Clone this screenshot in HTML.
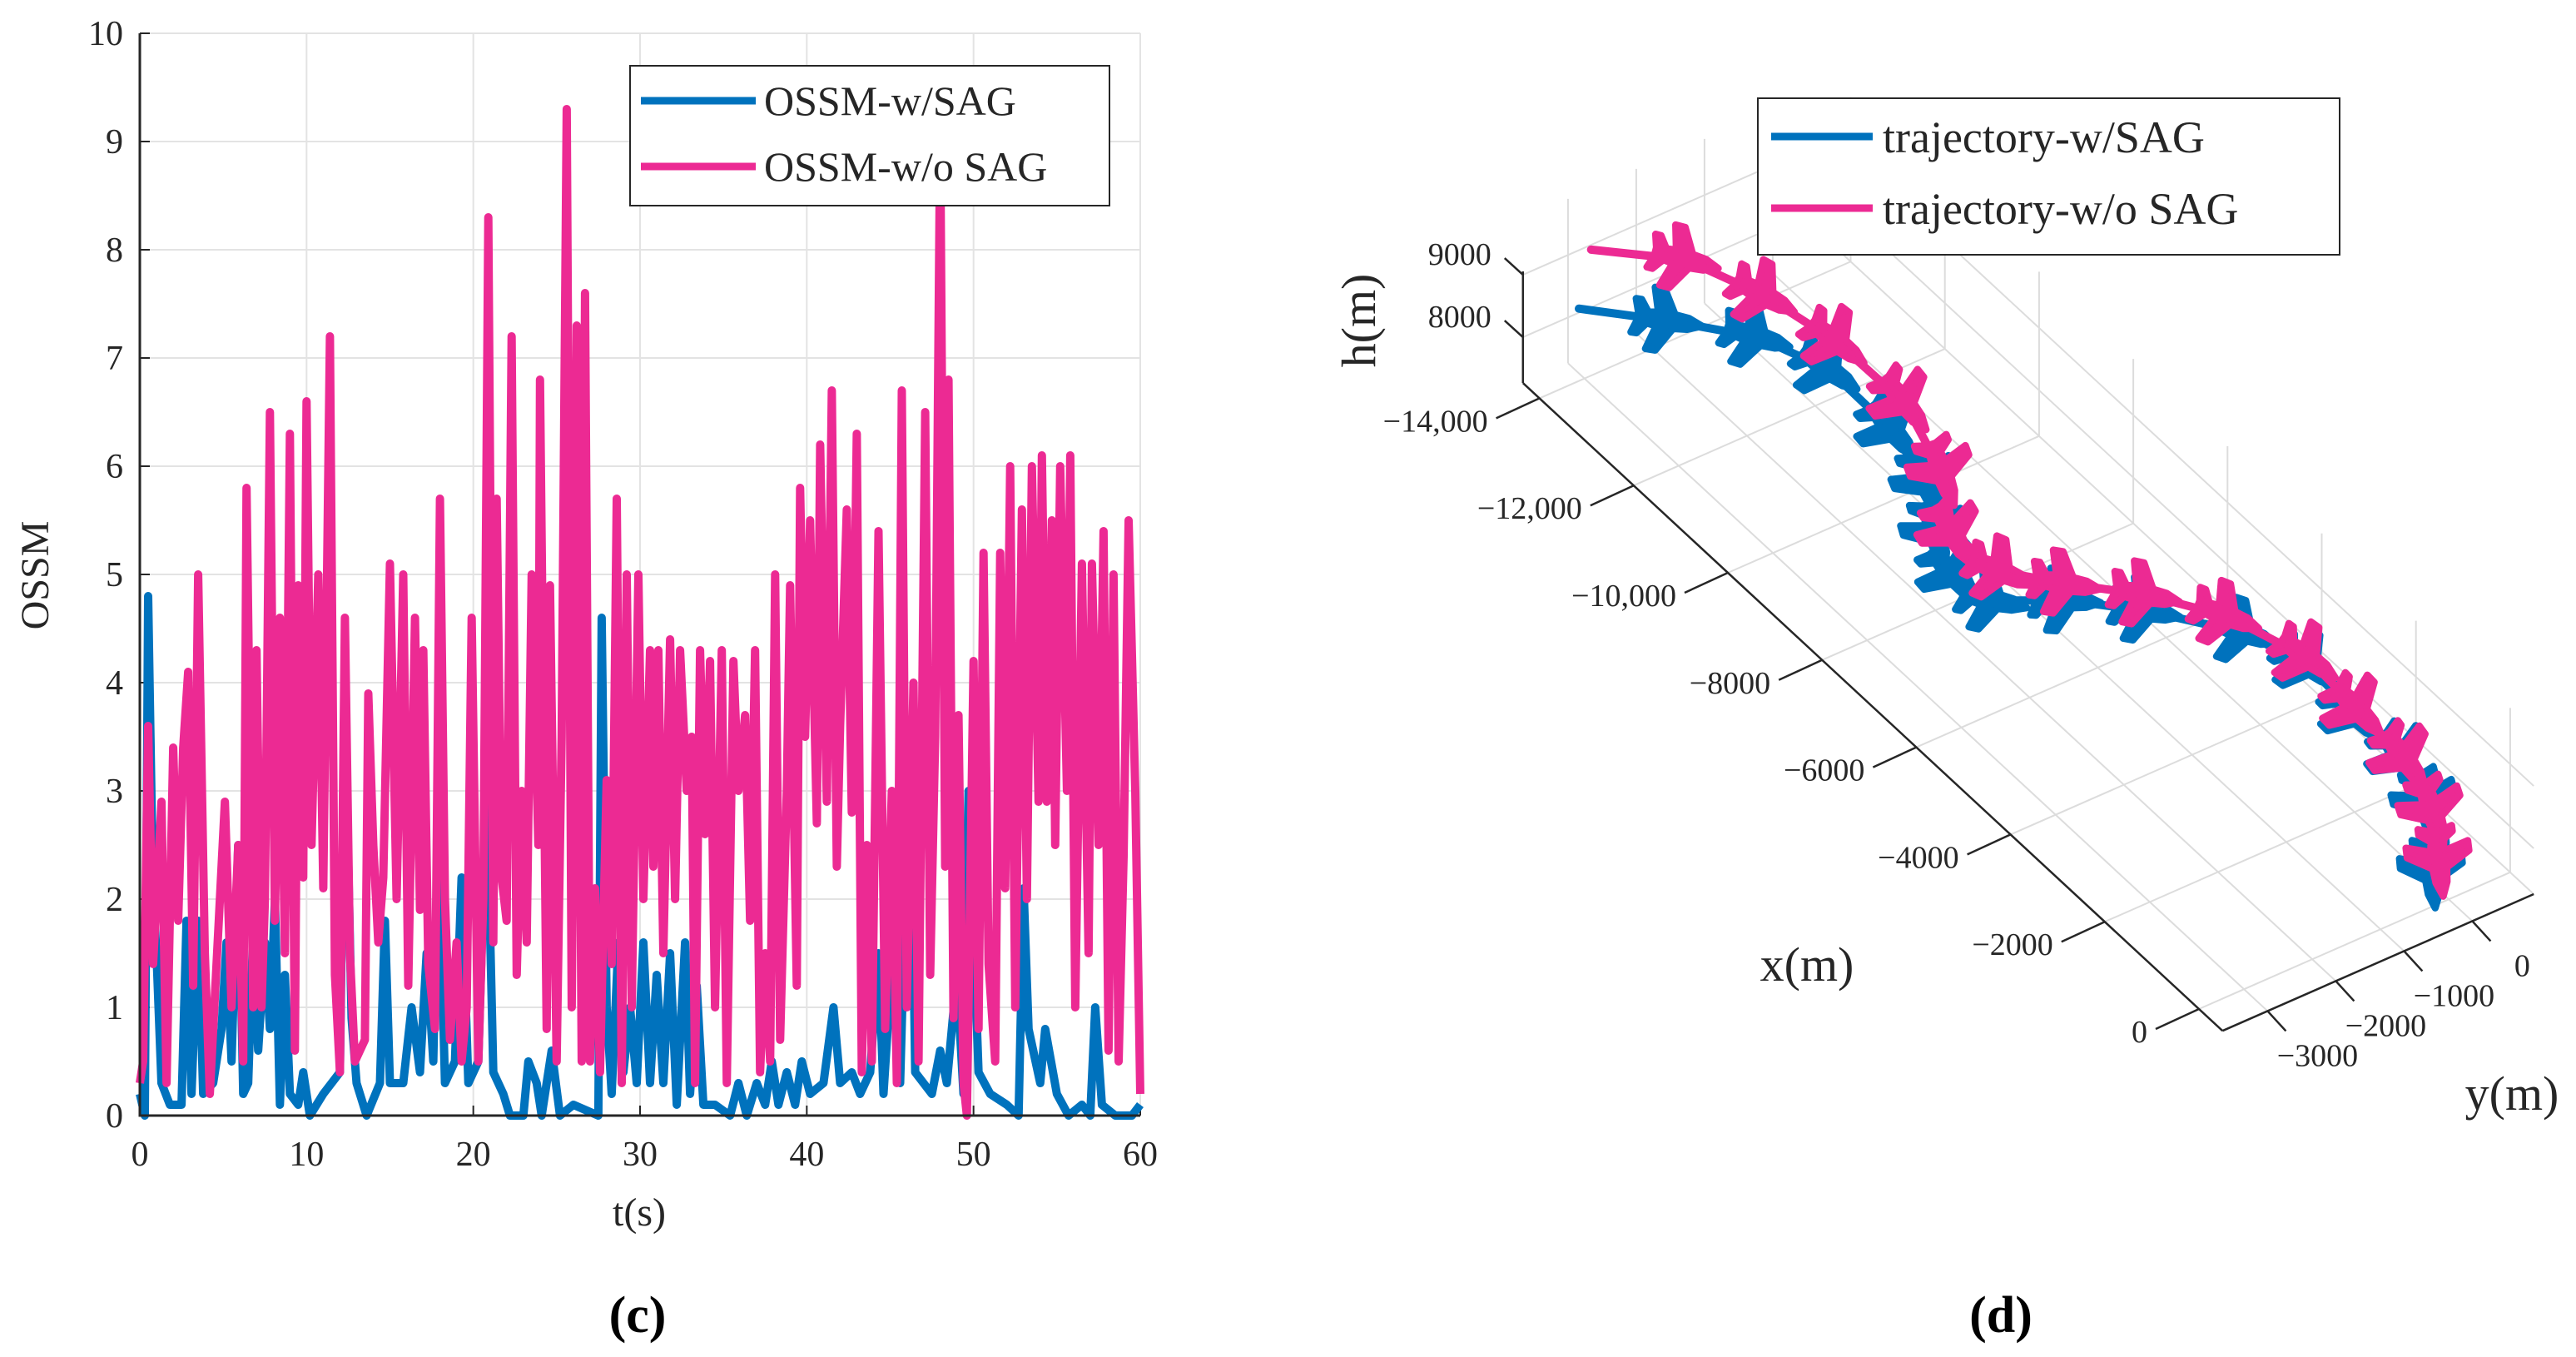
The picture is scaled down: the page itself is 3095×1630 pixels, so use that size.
<!DOCTYPE html>
<html><head><meta charset="utf-8"><style>
html,body{margin:0;padding:0;background:#fff;}
svg{display:block;font-family:"Liberation Serif",serif;}
</style></head><body>
<svg id="root" width="3095" height="1630" viewBox="0 0 3095 1630" xmlns="http://www.w3.org/2000/svg">
<g id="chartC"></g>
<g id="chartD"></g>
<text x="766" y="1600" font-size="62" font-weight="bold" text-anchor="middle">(c)</text>
<text x="2404" y="1600" font-size="62" font-weight="bold" text-anchor="middle">(d)</text>
</svg>
<script>
// ---------- Chart (c) data ----------
const xTicksC = [0,10,20,30,40,50,60];
const yTicksC = [0,1,2,3,4,5,6,7,8,9,10];
const pinkT = [0,0.2,0.5,0.8,1.3,1.6,2,2.3,2.6,2.9,3.2,3.5,3.9,4.2,4.7,5.1,5.5,5.9,6.2,6.4,6.8,7.0,7.3,7.5,7.8,8.1,8.4,8.7,9.0,9.3,9.5,9.8,10.0,10.3,10.7,11.0,11.4,11.7,12.0,12.3,12.6,12.9,13.5,13.7,14.0,14.3,14.6,15.0,15.4,15.8,16.1,16.5,16.8,17.0,17.3,17.7,18.0,18.3,18.6,19.0,19.3,19.6,19.9,20.3,20.6,20.9,21.2,21.4,21.7,22.0,22.3,22.6,22.9,23.2,23.5,23.9,24.0,24.4,24.6,25.0,25.3,25.6,25.9,26.2,26.5,26.7,27.0,27.3,27.6,28.0,28.3,28.6,28.9,29.2,29.5,29.9,30.2,30.6,30.8,31.1,31.4,31.8,32.1,32.4,32.8,33.1,33.3,33.6,33.9,34.2,34.5,34.9,35.2,35.6,35.9,36.3,36.6,36.9,37.2,37.5,37.8,38.1,38.4,38.8,39.0,39.4,39.6,39.9,40.2,40.6,40.8,41.2,41.5,41.8,42.0,42.4,42.7,43.0,43.3,43.6,43.9,44.3,44.7,45.1,45.4,45.7,46.0,46.4,46.7,47.1,47.4,47.7,48.0,48.3,48.5,48.8,49.1,49.4,49.6,50.0,50.3,50.6,50.9,51.3,51.6,51.9,52.2,52.5,52.9,53.2,53.5,53.9,54.1,54.4,54.7,54.9,55.2,55.6,55.8,56.1,56.5,56.9,57.1,57.5,57.8,58.1,58.4,58.7,59.0,59.3,59.7,60.0];
const pinkV = [0.3,0.5,3.6,1.4,2.9,0.3,3.4,1.8,3.4,4.1,1.2,5.0,1.5,0.2,1.7,2.9,1.0,2.5,0.5,5.8,1.0,4.3,1.0,2.0,6.5,1.8,4.6,1.5,6.3,0.6,4.9,2.2,6.6,2.5,5.0,2.1,7.2,1.3,0.4,4.6,1.5,0.5,0.7,3.9,2.5,1.6,2.2,5.1,2.0,5.0,1.2,4.6,1.9,4.3,1.4,0.8,5.7,2.0,0.7,1.6,0.5,1.0,4.6,0.5,2.0,8.3,1.6,5.7,2.2,1.8,7.2,1.3,3.0,1.6,5.0,2.5,6.8,0.8,4.9,0.5,3.5,9.3,1.0,7.3,0.5,7.6,0.5,2.1,0.4,3.1,1.4,5.7,0.3,5.0,1.0,5.0,2.0,4.3,2.3,4.3,1.5,4.4,2.0,4.3,3.0,3.5,0.3,4.3,2.6,4.2,1.0,4.3,0.3,4.2,3.0,3.7,1.8,4.3,0.4,1.5,0.5,5.0,0.7,3.0,4.9,1.2,5.8,3.5,5.5,2.7,6.2,2.9,6.7,2.3,3.6,5.6,2.8,6.3,0.4,2.5,0.5,5.4,0.8,3.0,0.3,6.7,1.0,4.0,0.5,6.5,1.3,3.5,9.1,2.3,6.8,0.9,3.7,0.3,0.0,4.2,0.8,5.2,1.4,0.5,5.2,2.1,6.0,1.0,5.6,2.0,6.0,2.9,6.1,2.9,5.5,2.5,6.0,3.0,6.1,1.0,5.1,1.5,5.1,2.5,5.4,0.6,5.0,0.5,2.4,5.5,3.0,0.2];
const blueT = [0,0.3,0.5,0.8,1.0,1.3,1.8,2.5,2.8,3.1,3.5,3.8,4.4,4.9,5.2,5.5,5.9,6.2,6.5,6.8,7.1,7.5,7.8,8.1,8.4,8.7,9.0,9.5,9.8,10.2,11.0,11.5,12.0,12.3,12.7,13.0,13.6,14.4,14.7,15.0,15.8,16.3,16.8,17.2,17.6,17.9,18.3,18.9,19.3,19.7,20.3,20.8,21.2,21.8,22.2,23.0,23.3,23.8,24.1,24.7,25.2,26.0,27.5,27.7,28.0,28.3,28.7,29.0,29.4,29.8,30.2,30.6,31.0,31.4,31.8,32.2,32.7,33.0,33.4,33.8,34.5,35.4,35.9,36.4,37.0,37.5,37.9,38.3,38.8,39.3,39.7,40.2,41.0,41.6,42.0,42.7,43.2,43.8,44.3,44.6,45.3,45.6,46.2,46.5,47.0,47.5,48.0,48.4,49.0,49.4,49.7,50.3,51.0,52.0,52.7,53.0,53.3,54.0,54.3,55.0,55.7,56.5,57.0,57.3,57.7,58.5,59.5,60.0];
const blueV = [0.2,0.0,4.8,2.0,1.5,0.3,0.1,0.1,1.8,0.2,1.8,0.2,0.3,0.8,1.6,0.5,2.5,0.2,0.3,1.7,0.6,1.6,0.8,2.0,0.1,1.3,0.2,0.1,0.4,0.0,0.2,0.3,0.4,3.8,0.9,0.3,0.0,0.3,1.8,0.3,0.3,1.0,0.4,1.5,0.5,2.7,0.3,0.5,2.2,0.3,0.5,3.1,0.4,0.2,0.0,0.0,0.5,0.3,0.0,0.6,0.0,0.1,0.0,4.6,1.0,0.2,1.6,0.4,1.0,0.3,1.6,0.3,1.3,0.3,1.5,0.1,1.6,0.2,1.2,0.1,0.1,0.0,0.3,0.0,0.3,0.1,0.5,0.1,0.4,0.1,0.5,0.2,0.3,1.0,0.3,0.4,0.2,0.4,1.5,0.2,1.9,0.3,3.6,0.4,0.3,0.2,0.6,0.3,1.3,0.2,3.0,0.4,0.2,0.1,0.0,2.1,0.8,0.3,0.8,0.2,0.0,0.1,0.0,1.0,0.1,0.0,0.0,0.1];

// ---------- Chart (d) data ----------
const blueX = [-13960,-13160,-12300,-11300,-9930,-8850,-8010,-7260,-6590,-6090,-5380,-4380,-3430,-2340,-1330,-460,660];
const blueY = [-3110,-2350,-1640,-1280,-1300,-1540,-1990,-2250,-2120,-1390,-710,20,310,250,240,-20,-700];
const blueH = [8467,8467,8467,8467,8467,8467,8467,8467,8467,8467,8467,8467,8467,8467,8467,8467,8467];
const pinkX = [-14120,-13320,-12220,-11000,-9590,-8240,-7220,-6310,-5680,-4960,-4080,-2880,-1730,-640,390,1200];
const pinkY = [-2820,-1990,-1590,-1370,-1350,-1730,-2280,-2200,-1680,-1010,-430,-80,-140,-200,-500,-970];
const pinkH = [9160,9160,9160,9160,9160,9160,9160,9160,9160,9160,9160,9160,9160,9160,9160,9160];
const xTicksD = [-14000,-12000,-10000,-8000,-6000,-4000,-2000,0];
const xTickLabelsD = ["\u221214,000","\u221212,000","\u221210,000","\u22128000","\u22126000","\u22124000","\u22122000","0"];
const yTicksD = [-3000,-2000,-1000,0];
const yTickLabelsD = ["\u22123000","\u22122000","\u22121000","0"];
const hTicksD = [8000,9000];
const hTickLabelsD = ["8000","9000"];

const NS = "http://www.w3.org/2000/svg";
function mk(parent, tag, attrs, text){
  const e = document.createElementNS(NS, tag);
  for (const k in attrs) e.setAttribute(k, attrs[k]);
  if (text !== undefined) e.textContent = text;
  parent.appendChild(e);
  return e;
}
const BLUE = "#0072BD", PINK = "#EC2A93";

// ===== Chart C =====
(function(){
  const g = document.getElementById("chartC");
  const L=168, R=1370, T=40, B=1340;
  const sx = t => L + (t/60)*(R-L);
  const sy = v => B - (v/10)*(B-T);
  for (const t of xTicksC){
    const l = mk(g,"line",{x1:sx(t),x2:sx(t),y1:T,y2:B,stroke:"#e3e3e3","stroke-width":2});
    
    
    const tk = mk(g,"line",{x1:sx(t),x2:sx(t),y1:B,y2:B-12,stroke:"#262626","stroke-width":2});
    
    
    const tx = mk(g,"text",{x:sx(t),y:B+60,"font-size":42,"text-anchor":"middle",fill:"#262626"},String(t));
    
    
  }
  for (const v of yTicksC){
    const l = mk(g,"line",{x1:L,x2:R,y1:sy(v),y2:sy(v),stroke:"#e3e3e3","stroke-width":2});
    
    
    const tk = mk(g,"line",{x1:L,x2:L+12,y1:sy(v),y2:sy(v),stroke:"#262626","stroke-width":2});
    
    
    const tx = mk(g,"text",{x:L-20,y:sy(v)+14,"font-size":42,"text-anchor":"end",fill:"#262626"},String(v));
    
    
  }
  function series(T_, V_, col, name){
    let d = "";
    for (let i=0;i<T_.length;i++) d += (i?"L":"M")+sx(T_[i]).toFixed(1)+","+sy(V_[i]).toFixed(1);
    const p = mk(g,"path",{d:d,fill:"none",stroke:col,"stroke-width":10,"stroke-linejoin":"round"});
    
    
  }
  series(blueT, blueV, BLUE, "ossm-w-sag-line");
  series(pinkT, pinkV, PINK, "ossm-wo-sag-line");
  const ax = mk(g,"path",{d:`M${L},${T}L${L},${B}L${R},${B}`,fill:"none",stroke:"#262626","stroke-width":3});
  
  
  const xl = mk(g,"text",{x:768,y:1472,"font-size":48,"text-anchor":"middle",fill:"#262626"},"t(s)");
  
  
  const yl = mk(g,"text",{x:0,y:0,"font-size":48,"text-anchor":"middle",fill:"#262626",transform:"translate(58,691) rotate(-90)"},"OSSM");
  
  
  const lg = mk(g,"g",{});
  
  
  mk(lg,"rect",{x:757,y:79,width:576,height:168,fill:"#fff",stroke:"#262626","stroke-width":2});
  const e1 = mk(lg,"line",{x1:770,x2:908,y1:121,y2:121,stroke:BLUE,"stroke-width":9});
  
  
  mk(lg,"text",{x:918,y:138,"font-size":50,fill:"#262626"},"OSSM-w/SAG");
  const e2 = mk(lg,"line",{x1:770,x2:908,y1:200,y2:200,stroke:PINK,"stroke-width":9});
  
  
  mk(lg,"text",{x:918,y:217,"font-size":50,fill:"#262626"},"OSSM-w/o SAG");
})();

// ===== Chart D =====
(function(){
  const g = document.getElementById("chartD");
  const OX=2642, OY=1212, XV=[56.6,52.4], YV=[82,-36], HS=0.075;
  const XMIN=-14350, XMAX=500, YMIN=-3660, YMAX=900, HMIN=7267, HMAX=9054, WALLTOP=9900;
  const P = (x,y,h) => [OX + (x/1000)*XV[0] + ((y-YMIN)/1000)*YV[0],
                        OY + (x/1000)*XV[1] + ((y-YMIN)/1000)*YV[1] - (h-HMIN)*HS];
  const grid = {stroke:"#dcdcdc","stroke-width":2};
  function ln(a,b,attrs,name){
    const l = mk(g,"line",Object.assign({x1:a[0],y1:a[1],x2:b[0],y2:b[1]},attrs));
    
    
    return l;
  }
  for (const x of xTicksD) ln(P(x,YMIN,HMIN),P(x,YMAX,HMIN),grid,'floor-gridline-x');
  for (const y of yTicksD) ln(P(XMIN,y,HMIN),P(XMAX,y,HMIN),grid,'floor-gridline-y');
  for (const x of xTicksD) ln(P(x,YMAX,HMIN),P(x,YMAX,WALLTOP),grid,'wall-gridline-x');
  for (const h of hTicksD) ln(P(XMIN,YMAX,h),P(XMAX,YMAX,h),grid,'wall-gridline-h');
  for (const y of yTicksD) ln(P(XMIN,y,HMIN),P(XMIN,y,WALLTOP),grid,'side-gridline-y');
  for (const h of hTicksD) ln(P(XMIN,YMIN,h),P(XMIN,YMAX,h),grid,'side-gridline-h');
  ln(P(XMIN,YMAX,HMIN),P(XMAX,YMAX,HMIN),grid,'floor-edge');
  ln(P(XMAX,YMIN,HMIN),P(XMAX,YMAX,HMIN),grid,'floor-edge');
  const ax = {stroke:"#262626","stroke-width":2.5};
  ln(P(XMIN,YMIN,HMIN),P(XMAX,YMIN,HMIN),ax,'x-axis-line');
  ln(P(XMAX,YMIN,HMIN),P(XMAX,YMAX,HMIN),ax,'y-axis-line');
  ln(P(XMIN,YMIN,HMIN),P(XMIN,YMIN,HMAX),ax,'h-axis-line');
  xTicksD.forEach((x,i)=>{
    const p = P(x,YMIN,HMIN);
    ln(p,[p[0]-52,p[1]+24],ax,'x-tick');
    const t = mk(g,"text",{x:p[0]-62,y:p[1]+40,"font-size":38,"text-anchor":"end",fill:"#262626"},xTickLabelsD[i]);
    
    
  });
  yTicksD.forEach((y,i)=>{
    const p = P(XMAX,y,HMIN);
    ln(p,[p[0]+22,p[1]+24],ax,'y-tick');
    const t = mk(g,"text",{x:p[0]+60,y:p[1]+66,"font-size":38,"text-anchor":"middle",fill:"#262626"},yTickLabelsD[i]);
    
    
  });
  hTicksD.forEach((h,i)=>{
    const p = P(XMIN,YMIN,h);
    ln(p,[p[0]-22,p[1]-20],ax,'h-tick');
    const t = mk(g,"text",{x:p[0]-38,y:p[1]-12,"font-size":38,"text-anchor":"end",fill:"#262626"},hTickLabelsD[i]);
    
    
  });
  const PLANE = [[24,0],[14,-4],[4,-5],[-6,-22],[-13,-22],[-8,-5],[-15,-4],[-21,-12],[-25,-12],[-22,-3],[-22,3],[-25,12],[-21,12],[-15,4],[-8,5],[-13,22],[-6,22],[4,5],[14,4]];
  function traj(X,Y,H,col,name){
    const pts = X.map((x,i)=>P(x,Y[i],H[i]));
    let d = "";
    pts.forEach((p,i)=>{ d += (i?"L":"M")+p[0].toFixed(1)+","+p[1].toFixed(1); });
    const path = mk(g,"path",{d:d,fill:"none",stroke:col,"stroke-width":10,"stroke-linejoin":"round","stroke-linecap":"round"});
    
    
    for (let i=1;i<pts.length;i++){
      const a = pts[i-1], b = pts[Math.min(i+1,pts.length-1)];
      const ang = Math.atan2(b[1]-a[1], b[0]-a[0])*180/Math.PI;
      const poly = mk(g,"polygon",{points:PLANE.map(q=>q.join(",")).join(" "),fill:col,stroke:col,"stroke-width":5,"stroke-linejoin":"round",
        transform:`translate(${pts[i][0].toFixed(1)},${pts[i][1].toFixed(1)}) rotate(${ang.toFixed(1)}) scale(1.7)`});
      
      
    }
  }
  traj(blueX,blueY,blueH,BLUE,'trajectory-w-sag');
  traj(pinkX,pinkY,pinkH,PINK,'trajectory-wo-sag');
  const xl = mk(g,"text",{x:2171,y:1178,"font-size":58,"text-anchor":"middle",fill:"#262626"},"x(m)");
  
  
  const yl = mk(g,"text",{x:3018,y:1333,"font-size":58,"text-anchor":"middle",fill:"#262626"},"y(m)");
  
  
  const hl = mk(g,"text",{x:0,y:0,"font-size":58,"text-anchor":"middle",fill:"#262626",transform:"translate(1652,385) rotate(-90)"},"h(m)");
  
  
  const lg = mk(g,"g",{});
  
  
  mk(lg,"rect",{x:2112,y:118,width:699,height:188,fill:"#fff",stroke:"#262626","stroke-width":2});
  const e1 = mk(lg,"line",{x1:2128,x2:2250,y1:164,y2:164,stroke:BLUE,"stroke-width":9});
  
  
  mk(lg,"text",{x:2262,y:183,"font-size":54,fill:"#262626"},"trajectory-w/SAG");
  const e2 = mk(lg,"line",{x1:2128,x2:2250,y1:250,y2:250,stroke:PINK,"stroke-width":9});
  
  
  mk(lg,"text",{x:2262,y:269,"font-size":54,fill:"#262626"},"trajectory-w/o SAG");
})();
</script>
</body></html>
